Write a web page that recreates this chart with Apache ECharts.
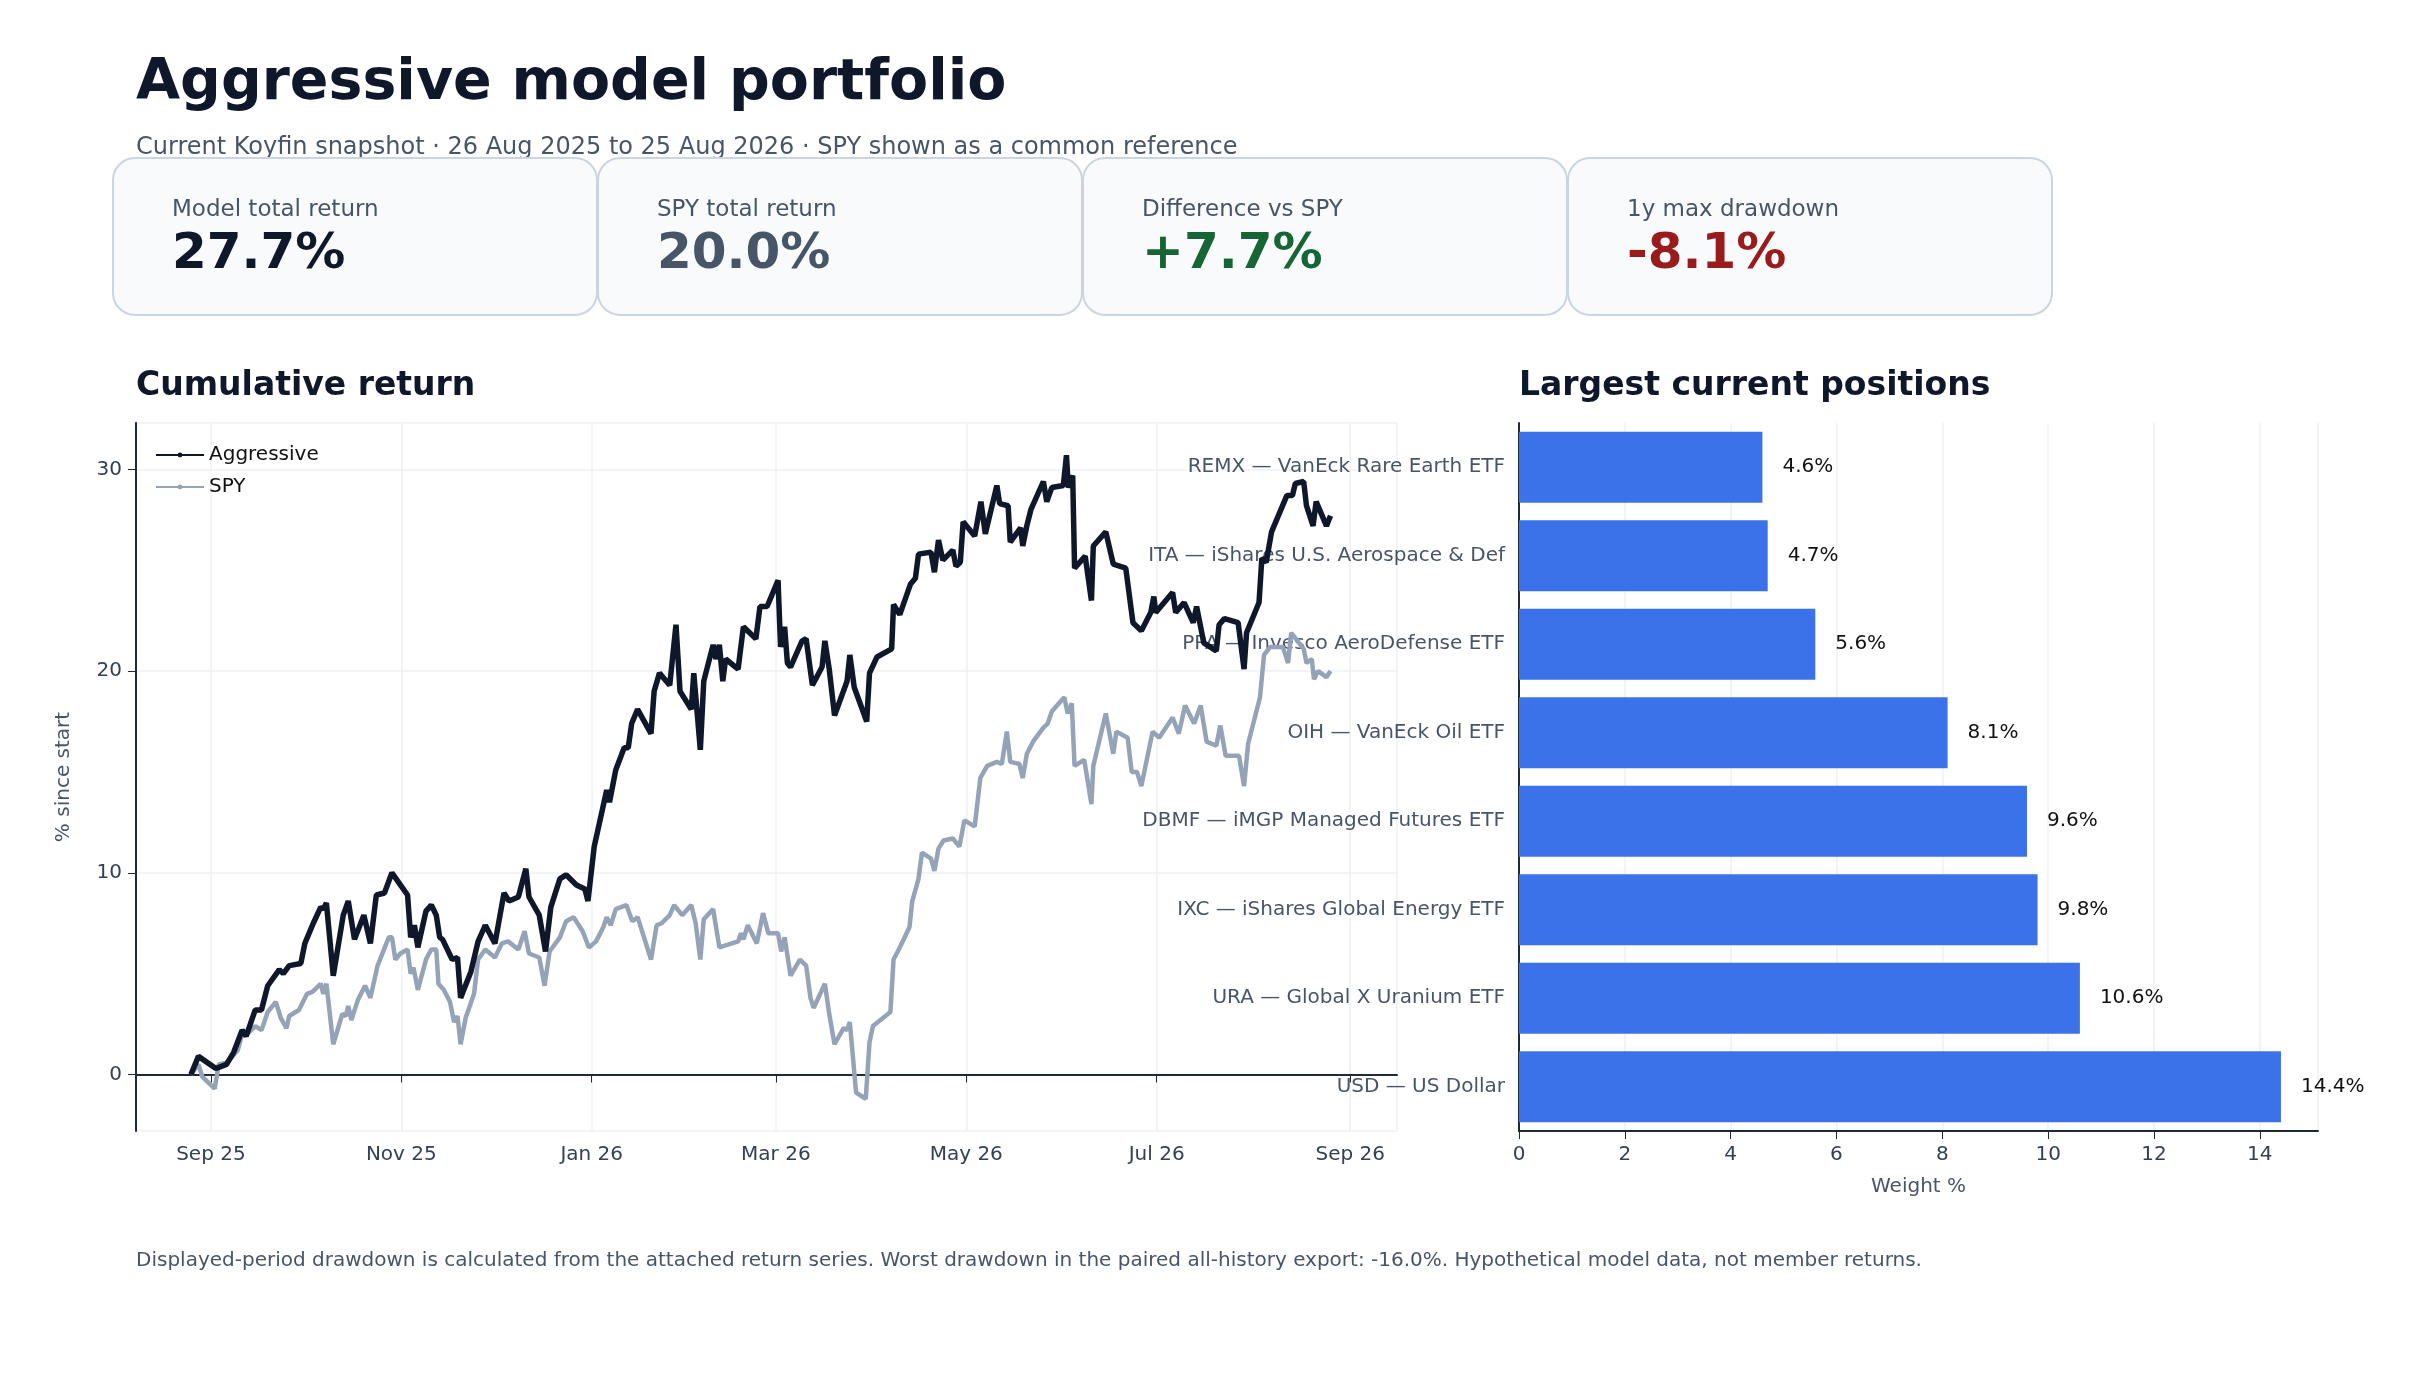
<!DOCTYPE html>
<html><head><meta charset="utf-8">
<script src="https://cdn.jsdelivr.net/npm/echarts@6/dist/echarts.min.js"></script>
<style>html,body{margin:0;padding:0;background:#fff}#c{width:2430px;height:1380px}</style>
</head><body><div id="c"></div>
<script>
// Days since 2025-09-01 (segment A) and since 2026-03-01 (segment B)
const aggDaysA=[-6.4,-4,1.6,5,7.3,10,11.3,14.2,16.2,18.2,21.9,23.2,25.1,28.8,30.1,32.8,35.2,36,37,39.2,42.4,44,46,49,51.1,53,55.6,58,60.7,63,64,65.2,66.3,68.9,70.6,72.2,73.3,74.2,77.3,79,80,83.3,85.6,87.9,91,93.9,95.5,98.5,100.9,101.9,105.2,107.2,108.9,111.8,113.8,117.1,119.8,120.8,122.8,126.8,127.7,129.7,132.4,133.7,134.8,136.7,141,142,143.7,147,149,150.3,153.9,154.7,156.8,157.9,160.9,161.8,162.9,164,164.9,168.9,170.6,174.6,175.9,178.2];
const aggValsA=[0,0.9,0.3,0.5,1.1,2.2,1.9,3.2,3.2,4.4,5.2,5.0,5.4,5.5,6.5,7.5,8.3,8.2,8.5,4.9,7.9,8.6,6.7,7.9,6.5,8.9,9.0,10.0,9.4,8.9,6.8,7.4,6.3,8.1,8.4,7.9,6.8,6.7,5.7,5.8,3.8,5.1,6.6,7.4,6.5,9.0,8.6,8.8,10.2,8.8,7.9,6.1,8.3,9.7,9.9,9.4,9.2,8.6,11.3,14.1,13.5,15.1,16.2,16.2,17.4,18.1,16.9,19.0,19.9,19.3,22.3,19.0,18.1,19.9,16.1,19.5,21.3,20.6,21.3,19.5,20.6,20.1,22.2,21.6,23.2,23.2];
const aggDaysB=[0.7,1.5,2.8,3.7,4.7,8.4,9.7,11.7,14.8,15.7,17.1,18.8,22.8,23.7,25.1,29.1,30,32.4,37.1,37.7,39.7,43.1,44.7,45.7,49.7,50.8,52.1,53.5,56.7,57.7,59.1,60,63.7,65.7,67.1,70.8,71.7,74.4,75.1,78.4,79.1,80.4,81.7,85.7,86.8,88.4,92.1,93.1,93.7,95.1,95.7,99.1,101.1,101.7,105.7,108.1,112.1,114.4,117.1,120.1,121.1,121.7,127.1,128.1,130.8,133.7,134.8,137.1,141.1,142,143.7,148.1,150,150.8,154.8,155.7,157.1,158.8,163.7,165.5,166.4,169.1,170,172.1,173.1,176.4,177.7];
const aggValsB=[24.5,21.2,22.2,20.4,20.2,21.5,21.6,19.3,20.2,21.5,20.1,17.8,19.5,20.8,19.2,17.5,19.9,20.7,21.1,23.3,22.8,24.3,24.6,25.8,25.9,24.9,26.5,25.5,26.0,25.2,25.4,27.4,26.7,28.4,26.8,29.2,28.3,28.2,26.4,27.1,26.2,27.2,28.0,29.4,28.4,29.1,29.2,30.7,29.1,29.7,25.1,25.7,23.5,26.2,26.9,25.3,25.1,22.4,22.0,22.9,23.7,22.9,23.9,22.9,23.4,22.4,23.2,21.4,21.0,22.3,22.6,22.4,20.1,21.9,23.4,25.6,25.4,26.9,28.7,28.7,29.3,29.4,28.2,27.2,28.4,27.2,27.7];
const spyDaysA=[-6.4,-4,-2.8,1.2,2.5,5.2,8.6,10,11.6,14.2,16.2,18.2,20.8,22.4,24.2,25.1,28.2,30.8,32.5,35.2,36,37,39.2,42.1,43.2,44,45,47.1,49.4,51.1,53.4,57,58,59.1,60.7,63,64,64.9,66.3,68.9,70.6,72.2,72.9,74.6,76.6,77.9,79,80,81.6,84.3,85.6,87.9,91,93.2,95.2,98.5,100.5,101.9,105.2,106.9,108.5,111.8,113.8,116.2,119.1,121.1,123.4,125.7,126.8,128.1,129.7,133.1,135,136.7,141,142.8,144.4,147,148.4,151,153.9,155.3,156.8,157.9,160.9,162.9,168.9,169.8,170.6,172,174.9,176.9,178.6];
const spyValsA=[0,0.5,-0.1,-0.7,0.5,0.6,1.2,2.0,2.0,2.4,2.2,3.1,3.6,2.8,2.3,2.9,3.2,4.0,4.1,4.5,4.0,4.5,1.5,3.0,2.9,3.4,2.7,3.7,4.4,3.8,5.4,6.8,6.8,5.7,6.0,6.2,5.0,5.3,4.2,5.7,6.2,6.2,4.5,4.2,3.6,2.6,2.9,1.5,2.8,4.0,5.7,6.2,5.8,6.5,6.6,6.2,7.1,6.0,5.8,4.4,6.1,6.8,7.6,7.8,7.1,6.3,6.6,7.3,7.8,7.4,8.2,8.4,7.6,7.8,5.7,7.4,7.5,7.9,8.4,7.9,8.4,7.5,5.7,7.7,8.2,6.3,6.6,7.0,6.7,7.4,6.5,8.0,7.0];
const spyDaysB=[0.7,1.7,2.8,4.7,7.7,9.7,11.1,12.1,15.7,17.1,18.8,21.7,22.8,23.7,25.7,28.8,30,31.1,36.7,37.7,39.7,42.8,43.7,45.7,46.8,49.7,50.8,52.1,53.7,56.7,58.8,60.4,63.7,65.5,67.7,70.8,72.4,74,75.1,78,79.1,80.4,82.4,85.7,87.1,88.4,92.4,93.5,94.8,95.7,98.8,101.1,101.7,105.7,108.1,109.1,112.7,114,115.7,117.1,120.7,122.8,127.1,129.1,131.1,134,136.1,138,141.1,142.4,144.1,148.4,150,151.3,155.1,156.4,158.4,162.4,164.1,165.1,169.1,170,171.7,172.4,173.7,176.4,177.7];
const spyValsB=[7.0,6.1,6.8,4.9,5.7,5.4,3.8,3.3,4.5,3.0,1.5,2.3,2.2,2.6,-0.9,-1.2,1.6,2.4,3.1,5.7,6.3,7.3,8.6,9.7,11.0,10.7,10.1,11.2,11.6,11.7,11.3,12.6,12.3,14.7,15.3,15.5,15.4,17.0,15.5,15.4,14.7,15.9,16.5,17.2,17.4,18.0,18.7,17.9,18.4,15.3,15.6,13.4,15.3,17.9,15.9,17.0,16.7,15.0,15.0,14.3,17.0,16.7,17.7,16.9,18.3,17.4,18.3,16.5,16.3,17.3,15.8,15.8,14.3,16.4,18.7,20.8,21.2,21.2,20.4,21.9,21.1,20.4,20.6,19.6,20.0,19.7,20.0];

const positions=['USD — US Dollar','URA — Global X Uranium ETF','IXC — iShares Global Energy ETF','DBMF — iMGP Managed Futures ETF','OIH — VanEck Oil ETF','PPA — Invesco AeroDefense ETF','ITA — iShares U.S. Aerospace & Def','REMX — VanEck Rare Earth ETF'];
const weights=[14.4,10.6,9.8,9.6,8.1,5.6,4.7,4.6];

const cardLabels=['Model total return','SPY total return','Difference vs SPY','1y max drawdown'];
const cardValues=['27.7%','20.0%','+7.7%','-8.1%'];
const cardColors=['#0f172a','#475569','#166534','#991b1b'];

const DAY=86400000;
const baseA=Date.UTC(2025,8,1), baseB=Date.UTC(2026,2,1);
function build(dA,vA,dB,vB){
  const out=[];
  dA.forEach((d,i)=>out.push([baseA+d*DAY,vA[i]]));
  dB.forEach((d,i)=>out.push([baseB+d*DAY,vB[i]]));
  return out;
}
const F='DejaVu Sans';
const cardW=484, cardX0=113, cardStep=485;
const graphics=[
  {type:'text',left:136,top:56,style:{text:'Aggressive model portfolio',font:'bold 57px "DejaVu Sans"',fill:'#0f172a'}},
  {type:'text',left:136,top:136,style:{text:'Current Koyfin snapshot · 26 Aug 2025 to 25 Aug 2026 · SPY shown as a common reference',font:'24px "DejaVu Sans"',fill:'#475569'}},
  {type:'text',left:136,top:370,style:{text:'Cumulative return',font:'bold 33px "DejaVu Sans"',fill:'#0f172a'}},
  {type:'text',left:1519,top:370,style:{text:'Largest current positions',font:'bold 33px "DejaVu Sans"',fill:'#0f172a'}},
  {type:'text',left:136,top:1251,style:{text:'Displayed-period drawdown is calculated from the attached return series. Worst drawdown in the paired all-history export: -16.0%. Hypothetical model data, not member returns.',font:'20px "DejaVu Sans"',fill:'#475569'}}
];
cardLabels.forEach((l,i)=>{
  const x=cardX0+i*cardStep;
  graphics.push({type:'rect',shape:{x:x,y:158,width:cardW,height:157,r:22},style:{fill:'#f8fafc',stroke:'#cbd5e1',lineWidth:2}});
  graphics.push({type:'text',x:x+59,y:199,style:{text:l,font:'23px "DejaVu Sans"',fill:'#475569'}});
  graphics.push({type:'text',x:x+59,y:230,style:{text:cardValues[i],font:'bold 50px "DejaVu Sans"',fill:cardColors[i]}});
});

const chart=echarts.init(document.getElementById('c'));
chart.setOption({
  backgroundColor:'#fff',
  textStyle:{fontFamily:F},
  graphic:graphics,
  legend:{left:150,top:440,orient:'vertical',itemWidth:48,itemHeight:6,itemGap:12,
    textStyle:{fontSize:20,color:'#111'},data:['Aggressive','SPY']},
  grid:[{left:136,right:2430-1397,top:423,bottom:1380-1131},
        {left:1519,right:2430-2318,top:423,bottom:1380-1131}],
  xAxis:[{type:'time',gridIndex:0,min:Date.UTC(2025,7,8),max:Date.UTC(2026,8,16),splitNumber:6,
      axisLine:{lineStyle:{color:'#1f2937',width:2}},axisTick:{length:8,lineStyle:{color:'#1f2937'}},
      axisLabel:{fontSize:20,color:'#334155',margin:14,formatter:v=>echarts.time.format(v,'{MMM} {yy}',true)},
      splitLine:{show:true,lineStyle:{color:'#eef0f3',width:1.5}}},
    {type:'value',gridIndex:1,min:0,max:15.1,interval:2,name:'Weight %',nameLocation:'middle',nameGap:46,
      nameTextStyle:{fontSize:20,color:'#475569'},
      axisLine:{show:true,lineStyle:{color:'#1f2937',width:2}},axisTick:{show:true,length:8},
      axisLabel:{fontSize:20,color:'#334155',margin:14,showMaxLabel:false,formatter:v=>v%2===0?String(v):''},
      splitLine:{show:true,lineStyle:{color:'#eef0f3',width:1.5}}}],
  yAxis:[{type:'value',gridIndex:0,min:-2.8,max:32.3,name:'% since start',nameLocation:'middle',nameGap:62,
      nameTextStyle:{fontSize:20,color:'#475569'},
      axisLine:{show:true,lineStyle:{color:'#1f2937',width:2}},axisTick:{show:true,length:8},
      axisLabel:{fontSize:20,color:'#334155',margin:14,showMinLabel:false,showMaxLabel:false,formatter:v=>v%5===0?String(v):''},
      splitLine:{show:true,lineStyle:{color:'#eef0f3',width:1.5}}},
    {type:'category',gridIndex:1,data:positions,
      axisLine:{show:true,lineStyle:{color:'#1f2937',width:2}},axisTick:{show:false},
      axisLabel:{fontSize:20,color:'#475569',margin:14}}],
  series:[
    {name:'SPY',type:'line',xAxisIndex:0,yAxisIndex:0,showSymbol:false,symbol:'none',z:2,
      lineStyle:{color:'#94a3b8',width:4.5},itemStyle:{color:'#94a3b8'},
      data:build(spyDaysA,spyValsA,spyDaysB,spyValsB)},
    {name:'Aggressive',type:'line',xAxisIndex:0,yAxisIndex:0,showSymbol:false,symbol:'none',z:3,
      lineStyle:{color:'#0f172a',width:5.5},itemStyle:{color:'#0f172a'},
      data:build(aggDaysA,aggValsA,aggDaysB,aggValsB)},
    {type:'bar',xAxisIndex:1,yAxisIndex:1,data:weights,barCategoryGap:'20%',
      itemStyle:{color:'#3b72ea'},
      label:{show:true,position:'right',distance:20,fontSize:20,color:'#111',formatter:p=>p.value.toFixed(1)+'%'}}
  ]
});
</script></body></html>
